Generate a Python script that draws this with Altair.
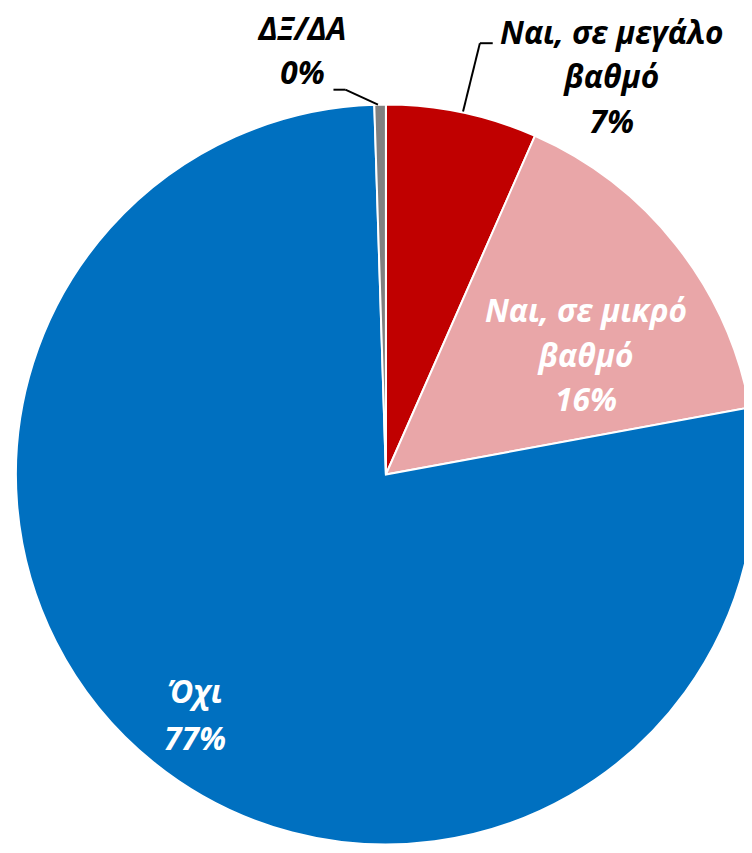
import altair as alt
import pandas as pd

categories = ["Ναι, σε μεγάλο βαθμό", "Ναι, σε μικρό βαθμό", "Όχι", "ΔΞ/ΔΑ"]
values = [6.6, 15.5, 77.4, 0.5]
labels = ["Ναι, σε μεγάλο\nβαθμό\n7%", "Ναι, σε μικρό\nβαθμό\n16%", "Όχι\n77%", "ΔΞ/ΔΑ\n0%"]
colors = ["#C00000", "#E9A6A8", "#0070C0", "#808080"]
order = [1, 2, 3, 4]

df = pd.DataFrame({"cat": categories, "value": values, "label": labels, "order": order})

CX, CY, R = 382, 467, 374
FONT = "Open Sans"

base = alt.Chart(df).encode(
    theta=alt.Theta("value:Q", stack=True),
    order=alt.Order("order:Q", sort="ascending"),
)

pie = base.mark_arc(outerRadius=R, stroke="white", strokeWidth=2, clip=True).encode(
    color=alt.Color("cat:N", scale=alt.Scale(domain=categories, range=colors), legend=None),
    x=alt.value(CX),
    y=alt.value(CY),
)


def label_layer(cat, radius, dx, dy, color, lh=45):
    return base.mark_text(
        radius=radius, dx=dx, dy=dy, color=color, font=FONT, fontSize=32,
        fontStyle="italic", fontWeight="bold", lineBreak="\n", lineHeight=lh,
        align="center", baseline="middle",
    ).encode(
        text=alt.condition(alt.datum.cat == cat, "label:N", alt.value("")),
        x=alt.value(CX),
        y=alt.value(CY),
    )


texts = [
    label_layer(categories[0], 400, 146, -54, "black"),
    label_layer(categories[1], 235, 18, -18, "white"),
    label_layer(categories[2], 309, 1, -20, "white", lh=48),
    label_layer(categories[3], 400, -78, -49, "black", lh=44),
]

one = pd.DataFrame({"a": [0]})


def leader(x1, y1, x2, y2):
    return alt.Chart(one).mark_rule(color="black", strokeWidth=2).encode(
        x=alt.value(x1), y=alt.value(y1), x2=alt.value(x2), y2=alt.value(y2)
    )


leaders = [
    leader(460, 100, 477, 31),
    leader(477, 31, 490, 31),
    leader(374, 93, 341, 78),
    leader(341, 78, 329, 78),
]

chart = alt.layer(pie, *texts, *leaders).properties(
    width=744, height=845, autosize="none", padding=0
).configure_view(stroke=None)

chart.save("out.html", embed_options={"renderer": "svg", "actions": False})
